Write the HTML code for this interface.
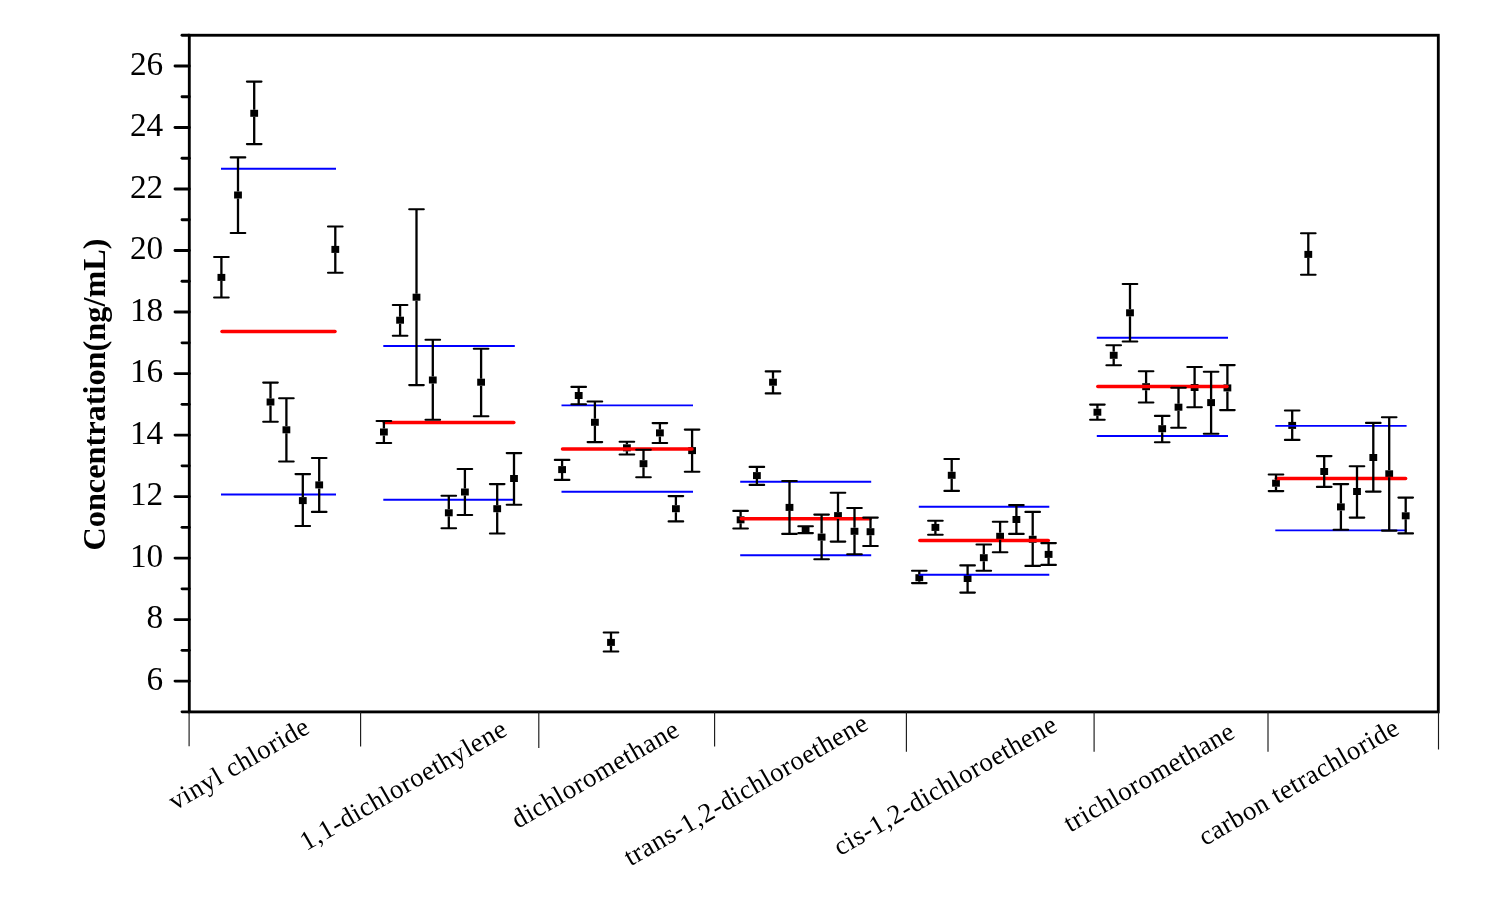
<!DOCTYPE html>
<html lang="en">
<head>
<meta charset="utf-8">
<title>Concentration chart</title>
<style>
html,body{margin:0;padding:0;background:#fff;}
body{width:1485px;height:913px;overflow:hidden;}
svg{display:block;will-change:transform;}
.num{font-family:"Liberation Serif",serif;font-size:33.3px;fill:#000;}
.cat{font-family:"Liberation Serif",serif;font-size:26.9px;letter-spacing:0.55px;fill:#000;}
.ttl{font-family:"Liberation Serif",serif;font-size:32.3px;font-weight:bold;fill:#000;}
</style>
</head>
<body>
<svg width="1485" height="913" viewBox="0 0 1485 913">
<rect width="1485" height="913" fill="#fff"/>
<g fill="#000">
<rect x="217.5" y="273.9" width="7.8" height="7"/>
<rect x="234.1" y="191.5" width="7.8" height="7"/>
<rect x="250.3" y="109.8" width="7.8" height="7"/>
<rect x="266.6" y="398.5" width="7.8" height="7"/>
<rect x="282.5" y="426.3" width="7.8" height="7"/>
<rect x="298.9" y="497.1" width="7.8" height="7"/>
<rect x="315.3" y="481.4" width="7.8" height="7"/>
<rect x="331.4" y="245.9" width="7.8" height="7"/>
<rect x="380.0" y="428.5" width="7.8" height="7"/>
<rect x="396.2" y="316.7" width="7.8" height="7"/>
<rect x="412.6" y="293.7" width="7.8" height="7"/>
<rect x="428.9" y="376.5" width="7.8" height="7"/>
<rect x="444.9" y="509.3" width="7.8" height="7"/>
<rect x="461.0" y="488.5" width="7.8" height="7"/>
<rect x="477.2" y="378.7" width="7.8" height="7"/>
<rect x="493.3" y="505.2" width="7.8" height="7"/>
<rect x="510.1" y="475.0" width="7.8" height="7"/>
<rect x="558.2" y="466.1" width="7.8" height="7"/>
<rect x="574.8" y="392.0" width="7.8" height="7"/>
<rect x="591.0" y="418.8" width="7.8" height="7"/>
<rect x="607.1" y="638.9" width="7.8" height="7"/>
<rect x="623.0" y="444.3" width="7.8" height="7"/>
<rect x="639.6" y="460.2" width="7.8" height="7"/>
<rect x="656.0" y="429.4" width="7.8" height="7"/>
<rect x="672.0" y="505.2" width="7.8" height="7"/>
<rect x="688.2" y="447.1" width="7.8" height="7"/>
<rect x="736.7" y="516.3" width="7.8" height="7"/>
<rect x="753.0" y="472.1" width="7.8" height="7"/>
<rect x="769.1" y="378.7" width="7.8" height="7"/>
<rect x="785.6" y="503.9" width="7.8" height="7"/>
<rect x="801.7" y="526.2" width="7.8" height="7"/>
<rect x="817.7" y="533.6" width="7.8" height="7"/>
<rect x="834.1" y="512.1" width="7.8" height="7"/>
<rect x="850.6" y="527.8" width="7.8" height="7"/>
<rect x="866.6" y="528.2" width="7.8" height="7"/>
<rect x="915.4" y="574.2" width="7.8" height="7"/>
<rect x="931.5" y="523.9" width="7.8" height="7"/>
<rect x="947.8" y="471.8" width="7.8" height="7"/>
<rect x="963.7" y="575.0" width="7.8" height="7"/>
<rect x="979.9" y="554.2" width="7.8" height="7"/>
<rect x="996.2" y="532.8" width="7.8" height="7"/>
<rect x="1012.5" y="516.0" width="7.8" height="7"/>
<rect x="1028.8" y="535.8" width="7.8" height="7"/>
<rect x="1044.7" y="550.9" width="7.8" height="7"/>
<rect x="1093.5" y="408.7" width="7.8" height="7"/>
<rect x="1109.8" y="351.8" width="7.8" height="7"/>
<rect x="1126.1" y="309.3" width="7.8" height="7"/>
<rect x="1142.2" y="383.2" width="7.8" height="7"/>
<rect x="1158.3" y="425.2" width="7.8" height="7"/>
<rect x="1174.6" y="403.7" width="7.8" height="7"/>
<rect x="1190.7" y="384.0" width="7.8" height="7"/>
<rect x="1207.2" y="399.1" width="7.8" height="7"/>
<rect x="1223.5" y="384.4" width="7.8" height="7"/>
<rect x="1272.1" y="479.7" width="7.8" height="7"/>
<rect x="1288.3" y="421.9" width="7.8" height="7"/>
<rect x="1304.4" y="250.9" width="7.8" height="7"/>
<rect x="1320.3" y="468.0" width="7.8" height="7"/>
<rect x="1337.0" y="503.4" width="7.8" height="7"/>
<rect x="1353.1" y="488.0" width="7.8" height="7"/>
<rect x="1369.4" y="454.0" width="7.8" height="7"/>
<rect x="1385.3" y="470.3" width="7.8" height="7"/>
<rect x="1401.8" y="512.3" width="7.8" height="7"/>
</g>
<g stroke="#0000ff" stroke-width="1.9" fill="none">
<line x1="221.0" y1="168.8" x2="336.0" y2="168.8"/>
<line x1="221.0" y1="494.5" x2="336.0" y2="494.5"/>
<line x1="383.3" y1="346.0" x2="514.8" y2="346.0"/>
<line x1="383.3" y1="499.7" x2="514.8" y2="499.7"/>
<line x1="561.5" y1="405.4" x2="693.0" y2="405.4"/>
<line x1="561.5" y1="491.8" x2="693.0" y2="491.8"/>
<line x1="740.2" y1="481.8" x2="871.2" y2="481.8"/>
<line x1="740.2" y1="555.3" x2="871.2" y2="555.3"/>
<line x1="918.8" y1="506.7" x2="1049.3" y2="506.7"/>
<line x1="918.8" y1="574.7" x2="1049.3" y2="574.7"/>
<line x1="1096.8" y1="337.7" x2="1228.0" y2="337.7"/>
<line x1="1096.8" y1="436.0" x2="1228.0" y2="436.0"/>
<line x1="1275.3" y1="425.9" x2="1406.6" y2="425.9"/>
<line x1="1275.3" y1="530.4" x2="1406.6" y2="530.4"/>
</g>
<g stroke="#ff0000" stroke-width="3.5" stroke-linecap="round" fill="none">
<line x1="222.0" y1="331.5" x2="335.0" y2="331.5"/>
<line x1="384.3" y1="422.5" x2="513.8" y2="422.5"/>
<line x1="562.5" y1="449.0" x2="692.0" y2="449.0"/>
<line x1="741.2" y1="518.7" x2="870.2" y2="518.7"/>
<line x1="919.8" y1="540.5" x2="1048.3" y2="540.5"/>
<line x1="1097.8" y1="386.5" x2="1227.0" y2="386.5"/>
<line x1="1276.3" y1="478.5" x2="1405.6" y2="478.5"/>
</g>
<g stroke="#000" stroke-width="2.3" fill="none">
<path d="M221.4 273.9V257.0M221.4 280.9V297.5"/>
<path d="M238.0 191.5V157.4M238.0 198.5V233.0"/>
<path d="M254.2 109.8V81.6M254.2 116.8V144.1"/>
<path d="M270.5 398.5V382.6M270.5 405.5V421.7"/>
<path d="M286.4 426.3V398.3M286.4 433.3V461.5"/>
<path d="M302.8 497.1V474.1M302.8 504.1V526.0"/>
<path d="M319.2 481.4V458.0M319.2 488.4V511.9"/>
<path d="M335.3 245.9V226.5M335.3 252.9V272.8"/>
<path d="M383.9 428.5V421.0M383.9 435.5V443.0"/>
<path d="M400.1 316.7V305.0M400.1 323.7V335.8"/>
<path d="M416.5 293.7V209.2M416.5 300.7V385.1"/>
<path d="M432.8 376.5V339.8M432.8 383.5V419.7"/>
<path d="M448.8 509.3V495.8M448.8 516.3V528.3"/>
<path d="M464.9 488.5V469.0M464.9 495.5V515.0"/>
<path d="M481.1 378.7V348.7M481.1 385.7V416.2"/>
<path d="M497.2 505.2V484.1M497.2 512.2V533.5"/>
<path d="M514.0 475.0V453.1M514.0 482.0V504.8"/>
<path d="M562.1 466.1V459.9M562.1 473.1V479.9"/>
<path d="M578.7 392.0V386.9M578.7 399.0V404.3"/>
<path d="M594.9 418.8V401.5M594.9 425.8V442.1"/>
<path d="M611.0 638.9V632.5M611.0 645.9V651.5"/>
<path d="M626.9 444.3V441.7M626.9 451.3V454.5"/>
<path d="M643.5 460.2V449.7M643.5 467.2V477.3"/>
<path d="M659.9 429.4V423.1M659.9 436.4V443.0"/>
<path d="M675.9 505.2V496.1M675.9 512.2V521.4"/>
<path d="M692.1 447.1V429.6M692.1 454.1V471.7"/>
<path d="M740.6 516.3V510.9M740.6 523.3V528.5"/>
<path d="M756.9 472.1V466.9M756.9 479.1V484.9"/>
<path d="M773.0 378.7V371.4M773.0 385.7V393.4"/>
<path d="M789.5 503.9V481.0M789.5 510.9V533.9"/>
<path d="M821.6 533.6V514.6M821.6 540.6V559.3"/>
<path d="M838.0 512.1V492.8M838.0 519.1V541.6"/>
<path d="M854.5 527.8V508.0M854.5 534.8V554.3"/>
<path d="M870.5 528.2V517.6M870.5 535.2V546.0"/>
<path d="M919.3 574.2V570.8M919.3 581.2V583.1"/>
<path d="M935.4 523.9V520.7M935.4 530.9V534.7"/>
<path d="M951.7 471.8V459.0M951.7 478.8V490.9"/>
<path d="M967.6 575.0V565.4M967.6 582.0V592.6"/>
<path d="M983.8 554.2V544.5M983.8 561.2V570.7"/>
<path d="M1000.1 532.8V521.8M1000.1 539.8V552.3"/>
<path d="M1016.4 516.0V505.1M1016.4 523.0V533.9"/>
<path d="M1032.7 535.8V511.9M1032.7 542.8V565.9"/>
<path d="M1048.6 550.9V543.1M1048.6 557.9V564.9"/>
<path d="M1097.4 408.7V404.6M1097.4 415.7V419.7"/>
<path d="M1113.7 351.8V345.3M1113.7 358.8V365.3"/>
<path d="M1130.0 309.3V284.0M1130.0 316.3V341.5"/>
<path d="M1146.1 383.2V371.2M1146.1 390.2V402.5"/>
<path d="M1162.2 425.2V415.9M1162.2 432.2V442.3"/>
<path d="M1178.5 403.7V387.7M1178.5 410.7V427.8"/>
<path d="M1194.6 384.0V367.0M1194.6 391.0V407.2"/>
<path d="M1211.1 399.1V371.8M1211.1 406.1V433.7"/>
<path d="M1227.4 384.4V365.1M1227.4 391.4V410.1"/>
<path d="M1276.0 479.7V474.5M1276.0 486.7V491.1"/>
<path d="M1292.2 421.9V410.5M1292.2 428.9V439.9"/>
<path d="M1308.3 250.9V233.2M1308.3 257.9V274.7"/>
<path d="M1324.2 468.0V456.1M1324.2 475.0V486.9"/>
<path d="M1340.9 503.4V484.1M1340.9 510.4V529.7"/>
<path d="M1357.0 488.0V466.2M1357.0 495.0V517.6"/>
<path d="M1373.3 454.0V422.9M1373.3 461.0V491.6"/>
<path d="M1389.2 470.3V417.2M1389.2 477.3V530.6"/>
<path d="M1405.7 512.3V497.6M1405.7 519.3V533.4"/>
</g>
<g stroke="#000" stroke-width="2.1" stroke-linecap="round" fill="none">
<path d="M214.1 257.0h14.6M214.1 297.5h14.6"/>
<path d="M230.7 157.4h14.6M230.7 233.0h14.6"/>
<path d="M246.9 81.6h14.6M246.9 144.1h14.6"/>
<path d="M263.2 382.6h14.6M263.2 421.7h14.6"/>
<path d="M279.1 398.3h14.6M279.1 461.5h14.6"/>
<path d="M295.5 474.1h14.6M295.5 526.0h14.6"/>
<path d="M311.9 458.0h14.6M311.9 511.9h14.6"/>
<path d="M328.0 226.5h14.6M328.0 272.8h14.6"/>
<path d="M376.6 421.0h14.6M376.6 443.0h14.6"/>
<path d="M392.8 305.0h14.6M392.8 335.8h14.6"/>
<path d="M409.2 209.2h14.6M409.2 385.1h14.6"/>
<path d="M425.5 339.8h14.6M425.5 419.7h14.6"/>
<path d="M441.5 495.8h14.6M441.5 528.3h14.6"/>
<path d="M457.6 469.0h14.6M457.6 515.0h14.6"/>
<path d="M473.8 348.7h14.6M473.8 416.2h14.6"/>
<path d="M489.9 484.1h14.6M489.9 533.5h14.6"/>
<path d="M506.7 453.1h14.6M506.7 504.8h14.6"/>
<path d="M554.8 459.9h14.6M554.8 479.9h14.6"/>
<path d="M571.4 386.9h14.6M571.4 404.3h14.6"/>
<path d="M587.6 401.5h14.6M587.6 442.1h14.6"/>
<path d="M603.7 632.5h14.6M603.7 651.5h14.6"/>
<path d="M619.6 441.7h14.6M619.6 454.5h14.6"/>
<path d="M636.2 449.7h14.6M636.2 477.3h14.6"/>
<path d="M652.6 423.1h14.6M652.6 443.0h14.6"/>
<path d="M668.6 496.1h14.6M668.6 521.4h14.6"/>
<path d="M684.8 429.6h14.6M684.8 471.7h14.6"/>
<path d="M733.3 510.9h14.6M733.3 528.5h14.6"/>
<path d="M749.6 466.9h14.6M749.6 484.9h14.6"/>
<path d="M765.7 371.4h14.6M765.7 393.4h14.6"/>
<path d="M782.2 481.0h14.6M782.2 533.9h14.6"/>
<path d="M798.3 526.2h14.6M798.3 533.1h14.6"/>
<path d="M814.3 514.6h14.6M814.3 559.3h14.6"/>
<path d="M830.7 492.8h14.6M830.7 541.6h14.6"/>
<path d="M847.2 508.0h14.6M847.2 554.3h14.6"/>
<path d="M863.2 517.6h14.6M863.2 546.0h14.6"/>
<path d="M912.0 570.8h14.6M912.0 583.1h14.6"/>
<path d="M928.1 520.7h14.6M928.1 534.7h14.6"/>
<path d="M944.4 459.0h14.6M944.4 490.9h14.6"/>
<path d="M960.3 565.4h14.6M960.3 592.6h14.6"/>
<path d="M976.5 544.5h14.6M976.5 570.7h14.6"/>
<path d="M992.8 521.8h14.6M992.8 552.3h14.6"/>
<path d="M1009.1 505.1h14.6M1009.1 533.9h14.6"/>
<path d="M1025.4 511.9h14.6M1025.4 565.9h14.6"/>
<path d="M1041.3 543.1h14.6M1041.3 564.9h14.6"/>
<path d="M1090.1 404.6h14.6M1090.1 419.7h14.6"/>
<path d="M1106.4 345.3h14.6M1106.4 365.3h14.6"/>
<path d="M1122.7 284.0h14.6M1122.7 341.5h14.6"/>
<path d="M1138.8 371.2h14.6M1138.8 402.5h14.6"/>
<path d="M1154.9 415.9h14.6M1154.9 442.3h14.6"/>
<path d="M1171.2 387.7h14.6M1171.2 427.8h14.6"/>
<path d="M1187.3 367.0h14.6M1187.3 407.2h14.6"/>
<path d="M1203.8 371.8h14.6M1203.8 433.7h14.6"/>
<path d="M1220.1 365.1h14.6M1220.1 410.1h14.6"/>
<path d="M1268.7 474.5h14.6M1268.7 491.1h14.6"/>
<path d="M1284.9 410.5h14.6M1284.9 439.9h14.6"/>
<path d="M1301.0 233.2h14.6M1301.0 274.7h14.6"/>
<path d="M1316.9 456.1h14.6M1316.9 486.9h14.6"/>
<path d="M1333.6 484.1h14.6M1333.6 529.7h14.6"/>
<path d="M1349.7 466.2h14.6M1349.7 517.6h14.6"/>
<path d="M1366.0 422.9h14.6M1366.0 491.6h14.6"/>
<path d="M1381.9 417.2h14.6M1381.9 530.6h14.6"/>
<path d="M1398.4 497.6h14.6M1398.4 533.4h14.6"/>
</g>
<g stroke="#000" stroke-width="2.85" fill="none" stroke-linecap="butt">
<rect x="189.30" y="35.25" width="1249.00" height="676.65"/>
<line x1="182.0" y1="711.86" x2="189.3" y2="711.86" stroke-linecap="round"/>
<line x1="175.0" y1="681.10" x2="189.3" y2="681.10" stroke-linecap="round"/>
<line x1="182.0" y1="650.35" x2="189.3" y2="650.35" stroke-linecap="round"/>
<line x1="175.0" y1="619.59" x2="189.3" y2="619.59" stroke-linecap="round"/>
<line x1="182.0" y1="588.84" x2="189.3" y2="588.84" stroke-linecap="round"/>
<line x1="175.0" y1="558.08" x2="189.3" y2="558.08" stroke-linecap="round"/>
<line x1="182.0" y1="527.33" x2="189.3" y2="527.33" stroke-linecap="round"/>
<line x1="175.0" y1="496.57" x2="189.3" y2="496.57" stroke-linecap="round"/>
<line x1="182.0" y1="465.82" x2="189.3" y2="465.82" stroke-linecap="round"/>
<line x1="175.0" y1="435.06" x2="189.3" y2="435.06" stroke-linecap="round"/>
<line x1="182.0" y1="404.31" x2="189.3" y2="404.31" stroke-linecap="round"/>
<line x1="175.0" y1="373.55" x2="189.3" y2="373.55" stroke-linecap="round"/>
<line x1="182.0" y1="342.80" x2="189.3" y2="342.80" stroke-linecap="round"/>
<line x1="175.0" y1="312.04" x2="189.3" y2="312.04" stroke-linecap="round"/>
<line x1="182.0" y1="281.29" x2="189.3" y2="281.29" stroke-linecap="round"/>
<line x1="175.0" y1="250.53" x2="189.3" y2="250.53" stroke-linecap="round"/>
<line x1="182.0" y1="219.78" x2="189.3" y2="219.78" stroke-linecap="round"/>
<line x1="175.0" y1="189.02" x2="189.3" y2="189.02" stroke-linecap="round"/>
<line x1="182.0" y1="158.26" x2="189.3" y2="158.26" stroke-linecap="round"/>
<line x1="175.0" y1="127.51" x2="189.3" y2="127.51" stroke-linecap="round"/>
<line x1="182.0" y1="96.75" x2="189.3" y2="96.75" stroke-linecap="round"/>
<line x1="175.0" y1="66.00" x2="189.3" y2="66.00" stroke-linecap="round"/>
<line x1="182.0" y1="35.25" x2="189.3" y2="35.25" stroke-linecap="round"/>
</g>
<g stroke="#1a1a1a" stroke-width="1.15" fill="none">
<line x1="189.1" y1="711.9" x2="189.1" y2="746.3"/>
<line x1="360.6" y1="711.9" x2="360.6" y2="746.6"/>
<line x1="538.8" y1="711.9" x2="538.8" y2="747.9"/>
<line x1="714.6" y1="711.9" x2="714.6" y2="746.6"/>
<line x1="906.4" y1="711.9" x2="906.4" y2="751.7"/>
<line x1="1094.1" y1="711.9" x2="1094.1" y2="751.7"/>
<line x1="1268.0" y1="711.9" x2="1268.0" y2="751.7"/>
<line x1="1438.5" y1="711.9" x2="1438.5" y2="749.5"/>
</g>
<g class="num" text-anchor="end">
<text x="163.2" y="689.7">6</text>
<text x="163.2" y="628.2">8</text>
<text x="163.2" y="566.7">10</text>
<text x="163.2" y="505.2">12</text>
<text x="163.2" y="443.7">14</text>
<text x="163.2" y="382.2">16</text>
<text x="163.2" y="320.6">18</text>
<text x="163.2" y="259.1">20</text>
<text x="163.2" y="197.6">22</text>
<text x="163.2" y="136.1">24</text>
<text x="163.2" y="74.6">26</text>
</g>
<text class="ttl" text-anchor="middle" transform="translate(105.4,394.5) rotate(-90)">Concentration(ng/mL)</text>
<g class="cat" text-anchor="end">
<text transform="translate(311.6,731.8) rotate(-30)">vinyl chloride</text>
<text transform="translate(509.1,734.1) rotate(-30)">1,1-dichloroethylene</text>
<text transform="translate(681.4,734.5) rotate(-30)">dichloromethane</text>
<text transform="translate(870.3,728.0) rotate(-30)">trans-1,2-dichloroethene</text>
<text transform="translate(1059.3,729.6) rotate(-30)">cis-1,2-dichloroethene</text>
<text transform="translate(1236.9,736.4) rotate(-30)">trichloromethane</text>
<text transform="translate(1401.3,732.8) rotate(-30)">carbon tetrachloride</text>
</g>
</svg>
</body>
</html>
